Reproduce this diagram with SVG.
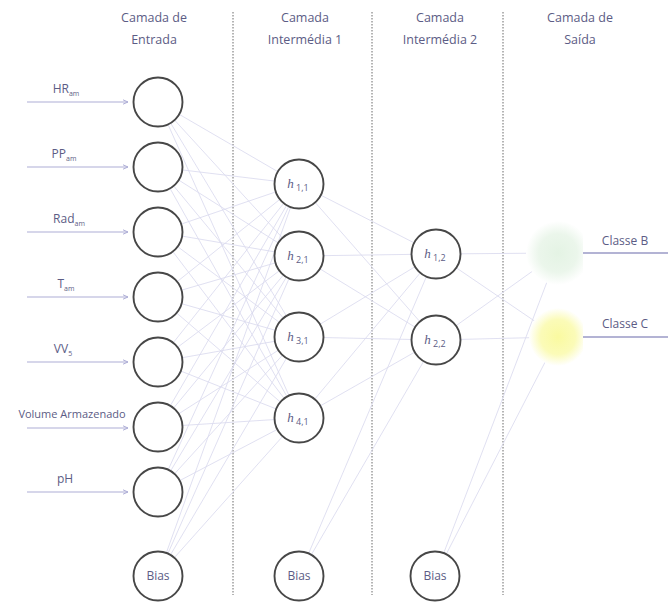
<svg xmlns="http://www.w3.org/2000/svg" width="668" height="603" viewBox="0 0 668 603">
<defs>
<style>
text{font-family:"Open Sans","Liberation Sans",sans-serif;fill:#5c5c85}
.hdr{font-size:12.5px;text-anchor:middle}
.lbl{font-size:12px;text-anchor:middle}
.sub{font-size:7px}
.node{fill:#fff;stroke:#474747;stroke-width:1.9}
.h{font-size:13px;font-style:italic;text-anchor:middle;font-family:"Liberation Serif",serif}
.hs{font-size:9px;font-style:normal;font-family:"Open Sans","Liberation Sans",sans-serif}
.conn line{stroke:#dadaef;stroke-width:0.85}
.sep{stroke:#6a6a6a;stroke-width:1;stroke-dasharray:1.5 1.5}
.in{stroke:#aeaed6;stroke-width:1.2}
.out{stroke:#9a9ac6;stroke-width:1.5}
</style>
<marker id="arr" viewBox="0 0 6 6" refX="5" refY="3" markerWidth="5" markerHeight="5" orient="auto">
<path d="M0,0.8 L5,3 L0,5.2" fill="none" stroke="#aeaed6" stroke-width="1"/>
</marker>
<radialGradient id="gG"><stop offset="0" stop-color="#e4f3e4"/><stop offset="0.6" stop-color="#ebf6eb"/><stop offset="1" stop-color="#ffffff"/></radialGradient>
<radialGradient id="gY"><stop offset="0" stop-color="#fafaa0"/><stop offset="0.6" stop-color="#fbfbb8"/><stop offset="1" stop-color="#ffffff"/></radialGradient>
<clipPath id="clipO"><rect x="500" y="200" width="83" height="180"/></clipPath>
</defs>
<rect width="668" height="603" fill="#fff"/>

<g id="separators">
<line class="sep" x1="233" y1="12" x2="233" y2="595"/>
<line class="sep" x1="372" y1="12" x2="372" y2="595"/>
<line class="sep" x1="503" y1="12" x2="503" y2="595"/>
</g>

<g id="headers">
<text class="hdr" x="154" y="22">Camada de</text>
<text class="hdr" x="154" y="44">Entrada</text>
<text class="hdr" x="305" y="22">Camada</text>
<text class="hdr" x="305" y="44">Intermédia 1</text>
<text class="hdr" x="440" y="22">Camada</text>
<text class="hdr" x="440" y="44">Intermédia 2</text>
<text class="hdr" x="580" y="22">Camada de</text>
<text class="hdr" x="580" y="44">Saída</text>
</g>

<g id="connectors" class="conn">
<line x1="158" y1="102" x2="299" y2="184"/><line x1="158" y1="102" x2="299" y2="256"/><line x1="158" y1="102" x2="299" y2="337"/><line x1="158" y1="102" x2="299" y2="418"/>
<line x1="158" y1="167" x2="299" y2="184"/><line x1="158" y1="167" x2="299" y2="256"/><line x1="158" y1="167" x2="299" y2="337"/><line x1="158" y1="167" x2="299" y2="418"/>
<line x1="158" y1="232" x2="299" y2="184"/><line x1="158" y1="232" x2="299" y2="256"/><line x1="158" y1="232" x2="299" y2="337"/><line x1="158" y1="232" x2="299" y2="418"/>
<line x1="158" y1="297" x2="299" y2="184"/><line x1="158" y1="297" x2="299" y2="256"/><line x1="158" y1="297" x2="299" y2="337"/><line x1="158" y1="297" x2="299" y2="418"/>
<line x1="158" y1="362" x2="299" y2="184"/><line x1="158" y1="362" x2="299" y2="256"/><line x1="158" y1="362" x2="299" y2="337"/><line x1="158" y1="362" x2="299" y2="418"/>
<line x1="158" y1="427" x2="299" y2="184"/><line x1="158" y1="427" x2="299" y2="256"/><line x1="158" y1="427" x2="299" y2="337"/><line x1="158" y1="427" x2="299" y2="418"/>
<line x1="158" y1="492" x2="299" y2="184"/><line x1="158" y1="492" x2="299" y2="256"/><line x1="158" y1="492" x2="299" y2="337"/><line x1="158" y1="492" x2="299" y2="418"/>
<line x1="158" y1="576" x2="299" y2="184"/><line x1="158" y1="576" x2="299" y2="256"/><line x1="158" y1="576" x2="299" y2="337"/><line x1="158" y1="576" x2="299" y2="418"/>
<line x1="299" y1="184" x2="436" y2="254"/><line x1="299" y1="184" x2="436" y2="340"/>
<line x1="299" y1="256" x2="436" y2="254"/><line x1="299" y1="256" x2="436" y2="340"/>
<line x1="299" y1="337" x2="436" y2="254"/><line x1="299" y1="337" x2="436" y2="340"/>
<line x1="299" y1="418" x2="436" y2="254"/><line x1="299" y1="418" x2="436" y2="340"/>
<line x1="299" y1="576" x2="436" y2="254"/><line x1="299" y1="576" x2="436" y2="340"/>
<line x1="436" y1="254" x2="558" y2="253"/><line x1="436" y1="254" x2="558" y2="337"/>
<line x1="436" y1="340" x2="558" y2="253"/><line x1="436" y1="340" x2="558" y2="337"/>
<line x1="435" y1="576" x2="558" y2="253"/><line x1="435" y1="576" x2="558" y2="337"/>
</g>

<g id="input-arrows">
<line class="in" x1="27" y1="102" x2="128" y2="102" marker-end="url(#arr)"/>
<line class="in" x1="27" y1="167" x2="128" y2="167" marker-end="url(#arr)"/>
<line class="in" x1="27" y1="232" x2="128" y2="232" marker-end="url(#arr)"/>
<line class="in" x1="27" y1="297" x2="128" y2="297" marker-end="url(#arr)"/>
<line class="in" x1="27" y1="362" x2="128" y2="362" marker-end="url(#arr)"/>
<line class="in" x1="27" y1="428" x2="128" y2="428" marker-end="url(#arr)"/>
<line class="in" x1="27" y1="492" x2="128" y2="492" marker-end="url(#arr)"/>
</g>

<g id="input-labels">
<text class="lbl" x="66" y="93">HR<tspan class="sub" dy="3">am</tspan></text>
<text class="lbl" x="64" y="158">PP<tspan class="sub" dy="3">am</tspan></text>
<text class="lbl" x="69" y="223">Rad<tspan class="sub" dy="3">am</tspan></text>
<text class="lbl" x="66" y="288">T<tspan class="sub" dy="3">am</tspan></text>
<text class="lbl" x="63" y="353">VV<tspan class="sub" dy="3">5</tspan></text>
<text class="lbl" x="72" y="418" style="font-size:11px">Volume Armazenado</text>
<text class="lbl" x="65" y="483">pH</text>
</g>

<g id="in1"><circle class="node" cx="158" cy="102" r="24.5"/></g>
<g id="in2"><circle class="node" cx="158" cy="167" r="24.5"/></g>
<g id="in3"><circle class="node" cx="158" cy="232" r="24.5"/></g>
<g id="in4"><circle class="node" cx="158" cy="297" r="24.5"/></g>
<g id="in5"><circle class="node" cx="158" cy="362" r="24.5"/></g>
<g id="in6"><circle class="node" cx="158" cy="427" r="24.5"/></g>
<g id="in7"><circle class="node" cx="158" cy="492" r="24.5"/></g>
<g id="in-bias"><circle class="node" cx="158" cy="576" r="24.5"/><text class="lbl" x="158" y="580">Bias</text></g>

<g id="h11"><circle class="node" cx="299" cy="184" r="24.5"/><text class="h" x="298" y="188">h<tspan class="hs" dy="3"> 1,1</tspan></text></g>
<g id="h21"><circle class="node" cx="299" cy="256" r="24.5"/><text class="h" x="298" y="260">h<tspan class="hs" dy="3"> 2,1</tspan></text></g>
<g id="h31"><circle class="node" cx="299" cy="337" r="24.5"/><text class="h" x="298" y="341">h<tspan class="hs" dy="3"> 3,1</tspan></text></g>
<g id="h41"><circle class="node" cx="299" cy="418" r="24.5"/><text class="h" x="298" y="422">h<tspan class="hs" dy="3"> 4,1</tspan></text></g>
<g id="h1-bias"><circle class="node" cx="299" cy="576" r="24.5"/><text class="lbl" x="299" y="580">Bias</text></g>

<g id="h12"><circle class="node" cx="436" cy="254" r="24.5"/><text class="h" x="435" y="258">h<tspan class="hs" dy="3"> 1,2</tspan></text></g>
<g id="h22"><circle class="node" cx="436" cy="340" r="24.5"/><text class="h" x="435" y="344">h<tspan class="hs" dy="3"> 2,2</tspan></text></g>
<g id="h2-bias"><circle class="node" cx="435" cy="576" r="24.5"/><text class="lbl" x="435" y="580">Bias</text></g>

<g id="out-b"><circle cx="558" cy="253" r="32" fill="url(#gG)" clip-path="url(#clipO)"/><line class="out" x1="583" y1="253" x2="668" y2="253"/><text class="lbl" x="625" y="245">Classe B</text></g>
<g id="out-c"><circle cx="558" cy="337" r="29" fill="url(#gY)" clip-path="url(#clipO)"/><line class="out" x1="583" y1="337" x2="668" y2="337"/><text class="lbl" x="625" y="328">Classe C</text></g>
</svg>
